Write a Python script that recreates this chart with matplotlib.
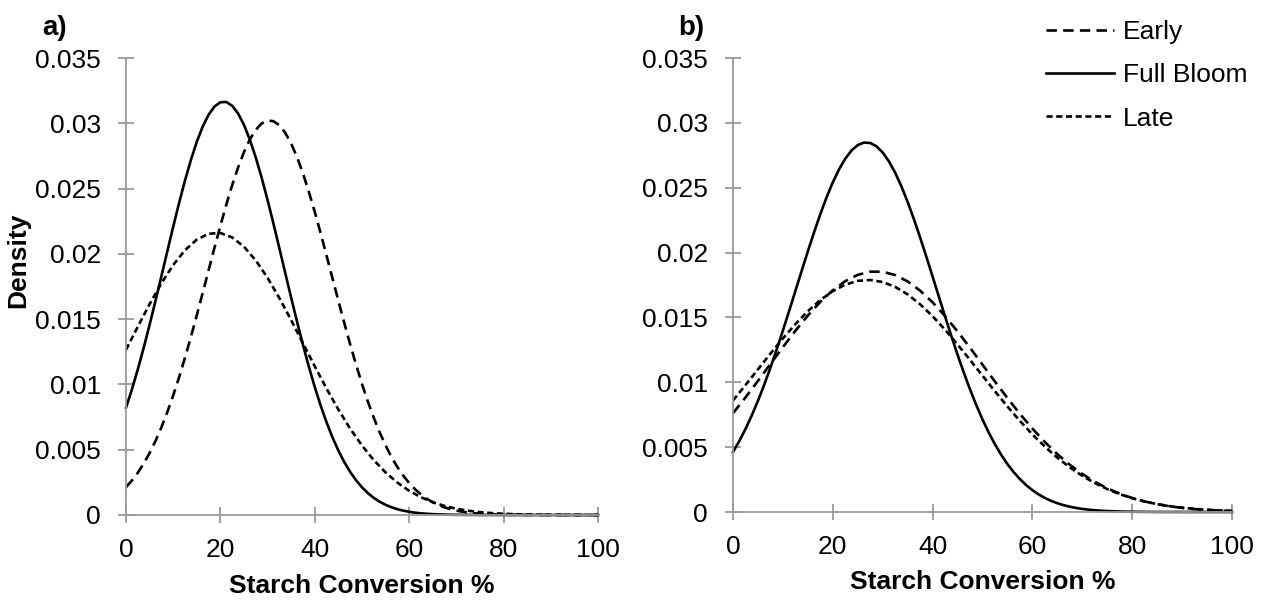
import matplotlib
matplotlib.use("Agg")
import matplotlib.pyplot as plt
from matplotlib.lines import Line2D

plt.rcParams["font.family"] = ["Liberation Sans", "DejaVu Sans"]
plt.rcParams["lines.scale_dashes"] = False

# Starch conversion (%) sample points: a coarse grid for the broad curves and a
# finer one for the narrow, sharply peaked curves
conversion_pct = [0, 2.5, 5, 7.5, 10, 12.5, 15, 17.5, 20, 22.5, 25, 27.5, 30, 32.5,
                  35, 37.5, 40, 42.5, 45, 47.5, 50, 52.5, 55, 57.5, 60, 62.5, 65,
                  67.5, 70, 72.5, 75, 77.5, 80, 82.5, 85, 87.5, 90, 92.5, 95, 97.5, 100]
conversion_pct_fine = [0, 1.25, 2.5, 3.75, 5, 6.25, 7.5, 8.75, 10, 11.25, 12.5, 13.75,
                       15, 16.25, 17.5, 18.75, 20, 21.25, 22.5, 23.75, 25, 26.25, 27.5,
                       28.75, 30, 31.25, 32.5, 33.75, 35, 36.25, 37.5, 38.75, 40, 41.25,
                       42.5, 43.75, 45, 46.25, 47.5, 48.75, 50, 51.25, 52.5, 53.75, 55,
                       56.25, 57.5, 58.75, 60, 61.25, 62.5, 63.75, 65, 66.25, 67.5,
                       68.75, 70, 71.25, 72.5, 73.75, 75, 76.25, 77.5, 78.75, 80, 81.25,
                       82.5, 83.75, 85, 86.25, 87.5, 88.75, 90, 91.25, 92.5, 93.75, 95,
                       96.25, 97.5, 98.75, 100]

# Panel a) densities
a_early = [0.002131, 0.002638, 0.003238, 0.003938, 0.004746, 0.005669, 0.006711,
           0.007874, 0.009156, 0.010551, 0.012051, 0.013641, 0.015303, 0.017014,
           0.018748, 0.020474, 0.022158, 0.023768, 0.025267, 0.026621, 0.027797,
           0.028766, 0.029503, 0.029988, 0.030209, 0.030160, 0.029843, 0.029265,
           0.028443, 0.027396, 0.026152, 0.024742, 0.023200, 0.021559, 0.019855,
           0.018123, 0.016394, 0.014698, 0.013059, 0.011500, 0.010036, 0.008681,
           0.007441, 0.006322, 0.005323, 0.004442, 0.003673, 0.003011, 0.002446,
           0.001969, 0.001571, 0.001242, 0.000974, 0.000756, 0.000582, 0.000444,
           0.000336, 0.000252, 0.000187, 0.000138, 0.000100, 0.000073, 0.000052,
           0.000037, 0.000026, 0.000018, 0.000013, 0.000009, 0.000006, 0.000004,
           0.000003, 0.000002, 0.000001, 0.000001, 0.0, 0.0, 0.0, 0.0, 0.0, 0.0, 0.0]
a_full_bloom = [0.008212, 0.009619, 0.011155, 0.012811, 0.014568, 0.016404, 0.018289,
                0.020194, 0.022077, 0.023900, 0.025620, 0.027194, 0.028583, 0.029748,
                0.030657, 0.031285, 0.031613, 0.031632, 0.031341, 0.030748, 0.029871,
                0.028735, 0.027371, 0.025817, 0.024113, 0.022300, 0.020421, 0.018519,
                0.016628, 0.014785, 0.013017, 0.011348, 0.009796, 0.008374, 0.007088,
                0.005941, 0.004931, 0.004052, 0.003297, 0.002657, 0.002120, 0.001675,
                0.001310, 0.001015, 0.000779, 0.000592, 0.000445, 0.000331, 0.000244,
                0.000178, 0.000129, 0.000092, 0.000066, 0.000046, 0.000032, 0.000022,
                0.000015, 0.000010, 0.000007, 0.000005, 0.000003, 0.000002, 0.000001,
                0.000001, 0.0, 0.0, 0.0, 0.0, 0.0, 0.0, 0.0, 0.0, 0.0, 0.0, 0.0, 0.0,
                0.0, 0.0, 0.0, 0.0, 0.0]
a_late = [0.012653, 0.014425, 0.016147, 0.017745, 0.019147, 0.020283, 0.021096,
          0.021542, 0.021597, 0.021259, 0.020545, 0.019494, 0.018160, 0.016610,
          0.014916, 0.013150, 0.011383, 0.009674, 0.008072, 0.006613, 0.005319,
          0.004200, 0.003257, 0.002479, 0.001853, 0.001359, 0.000979, 0.000693,
          0.000481, 0.000328, 0.000220, 0.000144, 0.000093, 0.000059, 0.000037,
          0.000022, 0.000013, 0.000008, 0.000005, 0.000003, 0.000001]

# Panel b) densities
b_early = [0.007612, 0.008831, 0.010107, 0.011411, 0.012711, 0.013969, 0.015146,
           0.016201, 0.017097, 0.017799, 0.018282, 0.018526, 0.018521, 0.018267,
           0.017775, 0.017064, 0.016161, 0.015101, 0.013920, 0.012660, 0.011359,
           0.010055, 0.008781, 0.007565, 0.006430, 0.005392, 0.004461, 0.003641,
           0.002932, 0.002329, 0.001826, 0.001412, 0.001077, 0.000811, 0.000602,
           0.000441, 0.000319, 0.000227, 0.000160, 0.000111, 0.000076]
b_full_bloom = [0.004624, 0.005460, 0.006397, 0.007434, 0.008572, 0.009805, 0.011127,
                0.012526, 0.013990, 0.015500, 0.017037, 0.018578, 0.020097, 0.021568,
                0.022962, 0.024253, 0.025412, 0.026417, 0.027242, 0.027870, 0.028287,
                0.028481, 0.028450, 0.028192, 0.027715, 0.027030, 0.026153, 0.025103,
                0.023904, 0.022581, 0.021162, 0.019675, 0.018147, 0.016605, 0.015073,
                0.013574, 0.012127, 0.010749, 0.009451, 0.008244, 0.007134, 0.006124,
                0.005216, 0.004407, 0.003694, 0.003072, 0.002534, 0.002074, 0.001684,
                0.001356, 0.001084, 0.000859, 0.000676, 0.000527, 0.000408, 0.000313,
                0.000239, 0.000180, 0.000135, 0.000101, 0.000074, 0.000054, 0.000039,
                0.000028, 0.000020, 0.000014, 0.000010, 0.000007, 0.000005, 0.000003,
                0.000002, 0.000002, 0.000001, 0.000001, 0.0, 0.0, 0.0, 0.0, 0.0, 0.0, 0.0]
b_late = [0.008596, 0.009784, 0.010997, 0.012206, 0.013379, 0.014481, 0.015479,
          0.016338, 0.017030, 0.017530, 0.017818, 0.017886, 0.017729, 0.017354,
          0.016775, 0.016013, 0.015094, 0.014051, 0.012916, 0.011725, 0.010510,
          0.009304, 0.008133, 0.007021, 0.005985, 0.005039, 0.004189, 0.003438,
          0.002788, 0.002232, 0.001764, 0.001377, 0.001062, 0.000808, 0.000608,
          0.000451, 0.000331, 0.000239, 0.000171, 0.000121, 0.000084]

series_names = ["Early", "Full Bloom", "Late"]
x_ticks = [0, 20, 40, 60, 80, 100]
y_ticks = [0, 0.005, 0.01, 0.015, 0.02, 0.025, 0.03, 0.035]
y_tick_labels = ["0", "0.005", "0.01", "0.015", "0.02", "0.025", "0.03", "0.035"]
panel_tags = ["a)", "b)"]
x_title = "Starch Conversion %"
y_title = "Density"

FS = 19
AXIS_GREY = "#9a9a9a"
LW = 1.9
styles = {
    "Early": dict(color="black", lw=LW, linestyle=(0, (7.5, 4.5))),
    "Full Bloom": dict(color="black", lw=LW, linestyle="-"),
    "Late": dict(color="black", lw=LW, linestyle=(0, (4.4, 2.6))),
}

W, H = 1266, 602
fig = plt.figure(figsize=(W / 100, H / 100), dpi=100)


def px_axes(x0, x1, y_top, y_bot):
    return fig.add_axes([x0 / W, 1 - y_bot / H, (x1 - x0) / W, (y_bot - y_top) / H])


ax_a = px_axes(126, 598, 58, 515)
ax_b = px_axes(733, 1232, 58, 512)

panels = [
    (ax_a, [(conversion_pct_fine, a_early),
            (conversion_pct_fine, a_full_bloom),
            (conversion_pct, a_late)]),
    (ax_b, [(conversion_pct, b_early),
            (conversion_pct_fine, b_full_bloom),
            (conversion_pct, b_late)]),
]

for ax, curves in panels:
    for name, (x, y) in zip(series_names, curves):
        ax.plot(x, y, label=name, clip_on=False, **styles[name])
    ax.set_xlim(0, 100)
    ax.set_ylim(0, 0.035)
    ax.set_xticks(x_ticks)
    ax.set_yticks(y_ticks)
    ax.set_yticklabels(y_tick_labels)
    for side in ("top", "right"):
        ax.spines[side].set_visible(False)
    for side in ("left", "bottom"):
        ax.spines[side].set_color(AXIS_GREY)
        ax.spines[side].set_linewidth(1.3)
    ax.tick_params(axis="both", direction="inout", length=11, width=1.3,
                   color=AXIS_GREY, labelsize=FS, labelcolor="black")
    ax.tick_params(axis="y", pad=12.5)
    ax.tick_params(axis="x", pad=11)
    ax.set_xlabel(x_title, fontsize=FS, fontweight="bold")
    ax.xaxis.set_label_coords(0.5, -0.155)
    ax.xaxis.label.set_verticalalignment("center")
    ax.patch.set_visible(False)

fig.text(18 / W, 1 - 260 / H, y_title, rotation=90, ha="center", va="center",
         fontsize=FS, fontweight="bold")
fig.text(42 / W, 1 - 35 / H, panel_tags[0], ha="left", va="baseline",
         fontsize=FS + 1, fontweight="bold")
fig.text(678 / W, 1 - 35 / H, panel_tags[1], ha="left", va="baseline",
         fontsize=FS + 1, fontweight="bold")

handles = [Line2D([], [], **styles[n]) for n in series_names]
fig.legend(handles, series_names, loc="upper left",
           bbox_to_anchor=(1046 / W, 1 - 20 / H), borderaxespad=0, borderpad=0,
           handlelength=2.58, handletextpad=0.34, labelspacing=0.73,
           frameon=False, fontsize=FS)

fig.savefig("out.png", dpi=100)
